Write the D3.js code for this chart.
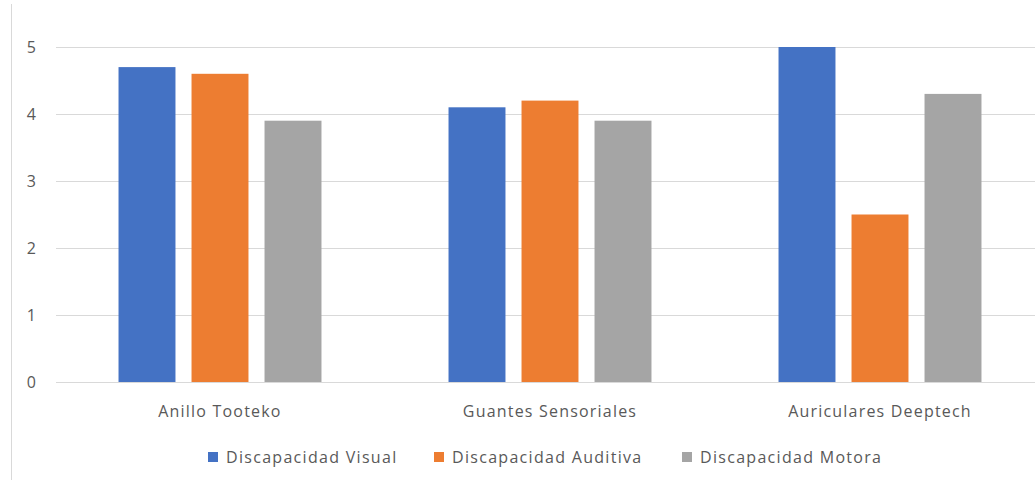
<!DOCTYPE html>
<html>
<head>
<meta charset="utf-8">
<script src="https://cdn.jsdelivr.net/npm/d3@7"></script>
<style>
  body { margin: 0; background: #fff; }
  text { font-family: "Open Sans", "Noto Sans", sans-serif; fill: #595959; }
</style>
</head>
<body>
<div id="chart"></div>
<script>
// data
var categories = ["Anillo Tooteko", "Guantes Sensoriales", "Auriculares Deeptech"];
var seriesNames = ["Discapacidad Visual", "Discapacidad Auditiva", "Discapacidad Motora"];
var visual = [4.7, 4.1, 5.0];
var auditiva = [4.6, 4.2, 2.5];
var motora = [3.9, 3.9, 4.3];
var yTicks = [0, 1, 2, 3, 4, 5];
var colors = ["#4472C4", "#ED7D31", "#A5A5A5"];

var seriesValues = [visual, auditiva, motora];

var width = 1035, height = 480;
var plotLeft = 55, plotRight = 1045, plotTop = 47, plotBottom = 382;

var svg = d3.select("#chart")
  .append("svg")
    .attr("width", width)
    .attr("height", height);

// chart area border (left edge visible)
svg.append("line")
  .attr("x1", 11.5).attr("x2", 11.5)
  .attr("y1", 4).attr("y2", height)
  .attr("stroke", "#d9d9d9")
  .attr("stroke-width", 1);

var x0 = d3.scaleBand()
  .domain(categories)
  .range([plotLeft, plotRight])
  .paddingInner(0.385)
  .paddingOuter(0.1925);

var x1 = d3.scaleBand()
  .domain(seriesNames)
  .range([0, x0.bandwidth()])
  .paddingInner(0.22);

var y = d3.scaleLinear()
  .domain([0, 5])
  .range([plotBottom, plotTop]);

// gridlines
svg.append("g")
  .selectAll("line")
  .data(yTicks)
  .enter()
  .append("line")
    .attr("x1", plotLeft + 1)
    .attr("x2", plotRight)
    .attr("y1", function (d) { return Math.round(y(d)) + 0.5; })
    .attr("y2", function (d) { return Math.round(y(d)) + 0.5; })
    .attr("stroke", "#d9d9d9")
    .attr("stroke-width", 1);

// y tick labels
svg.append("g")
  .selectAll("text")
  .data(yTicks)
  .enter()
  .append("text")
    .attr("x", 36)
    .attr("y", function (d) { return y(d); })
    .attr("dy", "0.35em")
    .attr("text-anchor", "end")
    .style("font-size", "16px")
    .text(function (d) { return d; });

// bars
var groups = svg.append("g")
  .selectAll("g")
  .data(categories)
  .enter()
  .append("g")
    .attr("transform", function (d) { return "translate(" + x0(d) + ",0)"; });

groups.selectAll("rect")
  .data(function (d, i) {
    return seriesNames.map(function (s, j) {
      return {series: s, value: seriesValues[j][i], color: colors[j]};
    });
  })
  .enter()
  .append("rect")
    .attr("x", function (d) { return x1(d.series); })
    .attr("width", x1.bandwidth())
    .attr("y", function (d) { return y(d.value); })
    .attr("height", function (d) { return y(0) - y(d.value); })
    .style("fill", function (d) { return d.color; });

// category labels
svg.append("g")
  .selectAll("text")
  .data(categories)
  .enter()
  .append("text")
    .attr("x", function (d) { return x0(d) + x0.bandwidth() / 2; })
    .attr("y", 411)
    .attr("dy", "0.35em")
    .attr("text-anchor", "middle")
    .style("font-size", "16px")
    .style("letter-spacing", "1.2px")
    .text(function (d) { return d; });

// legend
var legendX = [208, 434, 682];
var legend = svg.append("g")
  .selectAll("g")
  .data(seriesNames)
  .enter()
  .append("g")
    .attr("transform", function (d, i) { return "translate(" + legendX[i] + ",457)"; });

legend.append("rect")
  .attr("x", 0)
  .attr("y", -5)
  .attr("width", 10)
  .attr("height", 10)
  .style("fill", function (d, i) { return colors[i]; });

legend.append("text")
  .attr("x", 18)
  .attr("y", 0)
  .attr("dy", "0.35em")
  .style("font-size", "16px")
  .style("letter-spacing", "1.3px")
  .text(function (d) { return d; });
</script>
</body>
</html>
